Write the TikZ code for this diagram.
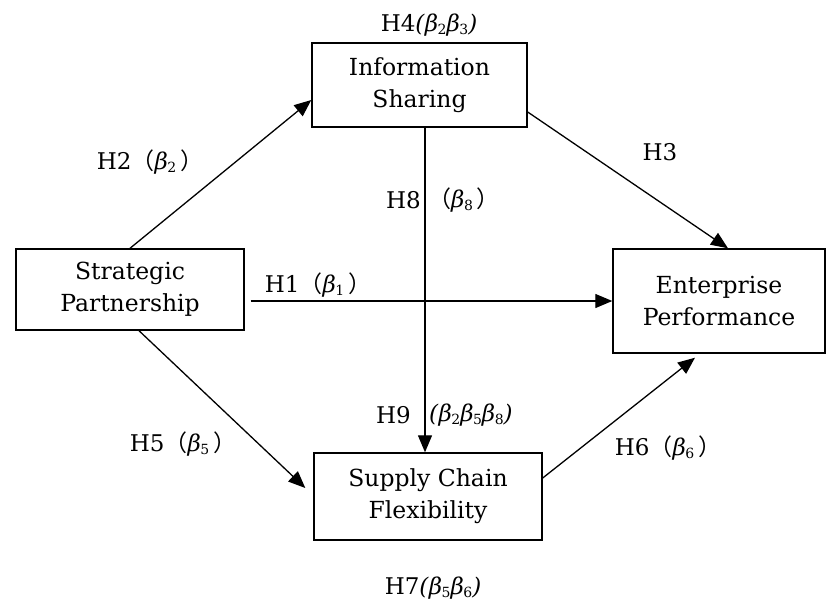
\documentclass[tikz,border=0pt]{standalone}
\usepackage{fontspec}
\setmainfont{DejaVu Serif}
\newfontfamily\cjk{Noto Sans CJK SC}
\usetikzlibrary{arrows.meta}
\newcommand{\fwl}{{\cjk （}}
\newcommand{\fwr}{{\cjk \,）}}
\newcommand{\bt}[1]{\textit{β}\kern-0.5pt\raisebox{-0.25ex}{\fontsize{14}{14}\selectfont #1}}
\begin{document}
\begin{tikzpicture}[x=1pt,y=-1pt,
  box/.style={draw,line width=1.4pt,align=center,inner sep=0pt,
    font=\fontsize{23.5}{32}\selectfont},
  lbl/.style={inner sep=0pt,font=\fontsize{23}{26}\selectfont},
  arr/.style={line width=1.3pt,-{Triangle[length=17pt,width=14pt]}}]
\useasboundingbox (0,0) rectangle (832,603);
\node[box,minimum width=215pt,minimum height=84pt] (IS) at (419.5,85) {Information\\Sharing};
\node[box,minimum width=228pt,minimum height=81pt] (SP) at (130,289.5) {Strategic\\Partnership};
\node[box,minimum width=212pt,minimum height=104pt] (EP) at (719,301) {Enterprise\\Performance};
\node[box,minimum width=228pt,minimum height=87pt] (SCF) at (428,496.5) {Supply Chain\\Flexibility};

\draw[arr] (SP.north) -- ([yshift=-15pt]IS.west);
\draw[arr] ([yshift=-27pt]IS.east) -- ([xshift=9pt]EP.north);
\draw[arr] ([xshift=6pt,yshift=-11.5pt]SP.east) -- (EP.west);
\draw[arr] ([xshift=5.5pt]IS.south) -- ([xshift=-3pt]SCF.north);
\draw[arr] ([xshift=9pt]SP.south) -- ([xshift=-8pt,yshift=8.5pt]SCF.west);
\draw[arr] ([yshift=18.5pt]SCF.east) -- ([xshift=-24pt,yshift=-4pt]EP.south);

\node[lbl] (l4) at (429,25) {H4\textit{(}\bt{2}\bt{3}\textit{)}};
\node[lbl] (l2) at (150,162) {H2\fwl\bt{2}\fwr};
\node[lbl] (l3) at (660,152) {H3};
\node[lbl,anchor=east] (l8a) at (421,200) {H8};
\node[lbl,anchor=west] (l8b) at (428,200) {\fwl\bt{8}\fwr};
\node[lbl] (l1) at (318,285) {H1\fwl\bt{1}\fwr};
\node[lbl,anchor=east] (l9a) at (411,415) {H9};
\node[lbl,anchor=west] (l9b) at (429,415) {\textit{(}\bt{2}\bt{5}\bt{8}\textit{)}};
\node[lbl] (l5) at (183,444) {H5\fwl\bt{5}\fwr};
\node[lbl] (l6) at (668,448) {H6\fwl\bt{6}\fwr};
\node[lbl] (l7) at (433,588) {H7\textit{(}\bt{5}\bt{6}\textit{)}};
\end{tikzpicture}
\end{document}
